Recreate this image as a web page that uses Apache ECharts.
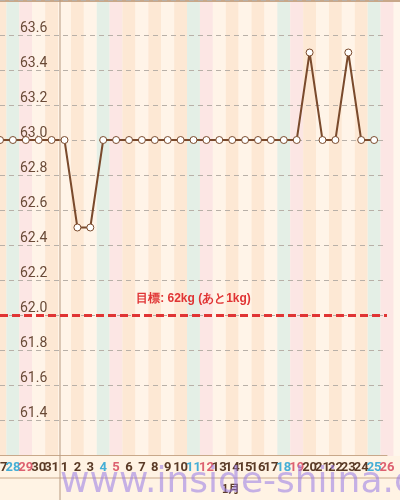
<!DOCTYPE html>
<html><head><meta charset="utf-8">
<script src="https://cdn.jsdelivr.net/npm/echarts@6/dist/echarts.min.js"></script>
<style>html,body{margin:0;padding:0;background:#fff6ec}#chart{width:400px;height:500px}</style>
</head><body><div id="chart"></div>
<script>
var days = ['27','28','29','30','31','1','2','3','4','5','6','7','8','9','10','11','12','13','14','15','16','17','18','19','20','21','22','23','24','25','26'];
var weight = [63.0,63.0,63.0,63.0,63.0,63.0,62.5,62.5,63.0,63.0,63.0,63.0,63.0,63.0,63.0,63.0,63.0,63.0,63.0,63.0,63.0,63.0,63.0,63.0,63.5,63.0,63.0,63.5,63.0,63.0,null];
// 0 平日 1 土曜 2 日曜
var dayType = [0,1,2,0,0,0,0,0,1,2,0,0,0,0,0,1,2,0,0,0,0,0,1,2,0,0,0,0,0,1,2];
var target = 62.0;
var yLabels = ['61.4','61.6','61.8','62.0','62.2','62.4','62.6','62.8','63.0','63.2','63.4','63.6'];

var stripeColor = function(i) {
	if(dayType[i] == 1) return '#e4efe6';
	if(dayType[i] == 2) return '#fce6e4';
	return i % 2 ? '#fff4e8' : '#fde8d4';
};
var chart = echarts.init(document.getElementById('chart'));
chart.setOption({
	animation: false,
	grid: {left: 0, right: 13, top: 0, bottom: 45, outerBoundsMode: 'none', containLabel: false},
	xAxis: {
		type: 'category', data: days, boundaryGap: false,
		axisLine: {lineStyle: {color: '#c8a88a'}}, axisTick: {show: false},
		axisLabel: {
			interval: 0, margin: 6, fontSize: 13, fontWeight: 'bold', fontFamily: 'Roboto',
			formatter: function(v, i) { return '{t' + dayType[i] + '|' + v + '}'; },
			rich: {t0: {color: '#5a3a26'}, t1: {color: '#45aed6'}, t2: {color: '#dd6070'}}
		}
	},
	yAxis: {
		type: 'value', min: 61.2, max: 63.8, interval: 0.2,
		axisLine: {show: false}, axisTick: {show: false},
		splitLine: {lineStyle: {color: '#b8b0a8', type: [5, 4]}},
		axisLabel: {
			inside: true, verticalAlign: 'bottom', margin: 20, color: '#6a4a36', fontSize: 14, fontFamily: 'Roboto',
			formatter: function(v) { var s = v.toFixed(1); return yLabels.indexOf(s) >= 0 ? s : ''; }
		}
	},
	series: [{
		type: 'custom', silent: true, z: -1,
		data: days.map(function(d, i) { return [i]; }),
		renderItem: function(params, api) {
			var i = api.value(0);
			var p = api.coord([i, 63.8]);
			var w = api.size([1, 0])[0];
			return {type: 'rect', shape: {x: p[0] - w / 2, y: 0, width: w, height: 456}, style: {fill: stripeColor(i)}};
		}
	}, {
		type: 'line', data: weight, symbol: 'circle', symbolSize: 7,
		lineStyle: {color: '#7a4a2c', width: 2},
		itemStyle: {color: '#fff', borderColor: '#7a4a2c', borderWidth: 1},
		markLine: {
			silent: true, symbol: 'none',
			lineStyle: {color: '#e03434', type: [8, 4], width: 3},
			label: {position: 'middle', formatter: '目標: 62kg (あと1kg)', color: '#e03434', fontWeight: 'bold', fontSize: 12, distance: 10},
			data: [{yAxis: target}]
		},
		z: 3
	}],
	graphic: [
		{type: 'rect', shape: {x: 0, y: 456, width: 400, height: 44}, style: {fill: '#fff3e4'}, z: -1},
		{type: 'line', shape: {x1: 0, y1: 478, x2: 400, y2: 478}, style: {stroke: '#c8a88a'}},
		{type: 'line', shape: {x1: 60, y1: 0, x2: 60, y2: 500}, style: {stroke: '#b89a80'}, z: 5},
		{type: 'rect', shape: {x: 0, y: 0, width: 400, height: 2}, style: {fill: '#c8a88a'}},
		{type: 'text', left: 222, top: 483, style: {text: '1月', fill: '#5a3a26', font: 'bold 11px "Noto Sans CJK JP"'}, z: 6},
		{type: 'text', left: 60, top: 465, style: {text: 'www.inside-shiina.com', fill: 'rgba(150,120,230,0.55)', font: '36px "DejaVu Sans"'}, z: 7}
	]
});
</script></body></html>
